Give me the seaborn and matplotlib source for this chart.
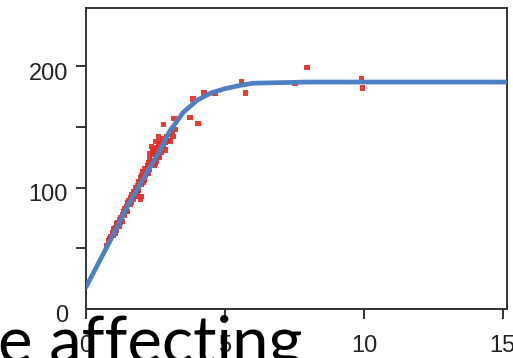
"""Saturating response curve with measured points, slide crop."""

import matplotlib.pyplot as plt
import matplotlib.transforms as mtransforms
import pandas as pd
import seaborn as sns


# fitted curve
CURVE_X = [0, 0.5, 1, 1.5, 2, 2.5, 3, 3.5, 4, 4.5, 5, 5.5, 6, 7, 8, 10, 15.2]
CURVE_Y = [18, 40, 62, 85, 105, 124, 146, 162, 172, 178, 181.5, 184, 186, 186.5, 187, 187, 187]

# measured points
POINT_X = [
    0.75, 0.8, 0.85, 0.9, 0.95, 1.0, 1.0, 1.05, 1.1, 1.1, 1.15, 1.2, 1.2, 1.25,
    1.3, 1.3, 1.35, 1.4, 1.4, 1.45, 1.5, 1.5, 1.55, 1.6, 1.6, 1.65, 1.7, 1.7,
    1.75, 1.8, 1.8, 1.85, 1.9, 1.9, 1.95, 1.95, 2.0, 2.0, 2.0, 2.05, 2.1, 2.1,
    2.15, 2.2, 2.2, 2.25, 2.3, 2.3, 2.35, 2.35, 2.4, 2.4, 2.4, 2.45, 2.5, 2.5,
    2.5, 2.55, 2.6, 2.6, 2.6, 2.65, 2.7, 2.7, 2.75, 2.8, 2.8, 2.85, 2.9, 2.95,
    3.0, 3.05, 3.1, 3.13, 3.17, 3.2, 3.74, 3.85, 4.03, 4.25, 4.64, 5.6, 5.75,
    7.52, 7.95, 9.9, 9.96,
    1.05, 1.25, 1.45, 1.65, 1.85, 2.05, 2.25, 2.45, 2.65, 2.85, 2.3, 2.55,
]
POINT_Y = [
    52, 56, 58, 60, 63, 61, 66, 67, 65, 70, 71, 68, 74, 75,
    72, 78, 80, 77, 83, 84, 80, 88, 89, 86, 92, 94, 90, 97,
    95, 100, 93, 102, 98, 105, 108, 90, 103, 110, 93, 113, 106, 116,
    110, 118, 112, 121, 115, 124, 119, 134, 127, 122, 131, 130, 120, 128,
    138, 133, 126, 136, 142, 131, 138, 129, 140, 134, 152, 137, 142, 139,
    144, 138, 146, 142, 157, 148, 158, 173, 153, 178, 178, 187, 178,
    185.6, 199, 189.7, 182,
    62, 71, 80, 88, 96, 104, 112, 118, 125, 131, 128, 122,
]

Y_TICKS = [0, 100, 200]
Y_MINOR = [50, 150]
X_TICKS = [0, 5, 10, 15]
OVERLAY_TEXT = "e affecting"


def main() -> None:
    sns.set_style("ticks")
    plt.rcParams["font.family"] = ["Liberation Sans", "DejaVu Sans"]

    curve = pd.DataFrame({"x": CURVE_X, "y": CURVE_Y})
    points = pd.DataFrame({"x": POINT_X, "y": POINT_Y})

    fig = plt.figure(figsize=(5.13, 3.58), dpi=100)
    ax = fig.add_axes([0.1676, 0.1369, 0.8207, 0.8408])

    sns.scatterplot(
        data=points, x="x", y="y", ax=ax, marker="s", s=14,
        color="#e02a1f", edgecolor="none", alpha=0.9, zorder=2,
    )
    sns.lineplot(
        data=curve, x="x", y="y", ax=ax, color="#4d80c2",
        linewidth=3.4, zorder=3,
    )

    ax.set_xlim(0, 15.15)
    ax.set_ylim(0, 248)
    ax.set_xticks(X_TICKS)
    ax.set_yticks(Y_TICKS)
    ax.set_yticks(Y_MINOR, minor=True)
    ax.set_xlabel("")
    ax.set_ylabel("")

    for side in ["left", "right", "top", "bottom"]:
        ax.spines[side].set_visible(True)
        ax.spines[side].set_color("#333333")
        ax.spines[side].set_linewidth(1.4)

    ax.tick_params(axis="both", which="both", direction="out", length=7,
                   width=1.4, color="#333333")
    ax.tick_params(axis="both", which="major", labelsize=17,
                   labelcolor="#222222", pad=6)
    ax.tick_params(axis="x", pad=12)
    ax.yaxis.get_major_ticks()[0].tick1line.set_visible(False)

    shift = mtransforms.ScaledTranslation(0, -5 / 100, fig.dpi_scale_trans)
    for label in ax.get_yticklabels():
        label.set_transform(label.get_transform() + shift)

    fig.text(-0.003, -0.012, OVERLAY_TEXT, fontsize=47, family="Lato",
             color="black", va="baseline", ha="left")

    fig.savefig("out.png", dpi=100)
    plt.close(fig)


if __name__ == "__main__":
    main()
